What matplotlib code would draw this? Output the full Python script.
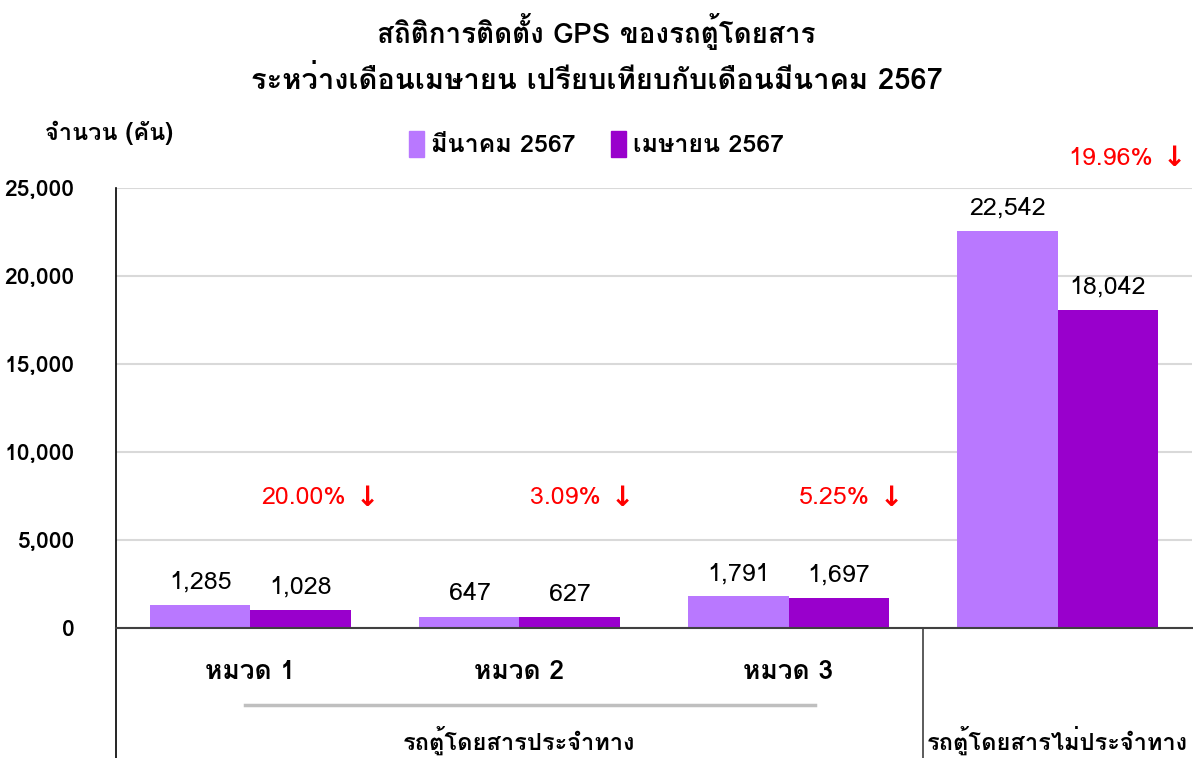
import matplotlib
matplotlib.use("Agg")
import matplotlib.pyplot as plt
from matplotlib import font_manager
from matplotlib.ft2font import FT2Font
from matplotlib.patches import Patch

# data
groups = ["หมวด 1", "หมวด 2", "หมวด 3", ""]
mar = [1285, 647, 1791, 22542]
apr = [1028, 627, 1697, 18042]
pct = ["20.00%", "3.09%", "5.25%", "19.96%"]
yticks = [0, 5000, 10000, 15000, 20000, 25000]

# find a font that has thai glyphs
thai = None
for f in font_manager.fontManager.ttflist:
    try:
        if 0x0E01 in FT2Font(f.fname).get_charmap():
            thai = f.name
            break
    except Exception:
        pass
fam = [thai, "DejaVu Sans"] if thai else ["DejaVu Sans"]
plt.rcParams["font.family"] = fam

c1 = "#B978FF"
c2 = "#9900CC"

fig = plt.figure(figsize=(11.93, 7.58), dpi=100)
ax = fig.add_axes([0.0972, 0.1715, 0.902, 0.5805])

x = list(range(len(mar)))
w = 0.372
ax.bar([i - w / 2 for i in x], mar, w, color=c1, zorder=3)
ax.bar([i + w / 2 for i in x], apr, w, color=c2, zorder=3)

for i in x:
    ax.text(i - w / 2, mar[i] + 650, f"{mar[i]:,}", ha="center", va="bottom", fontsize=18)
    ax.text(i + w / 2, apr[i] + 650, f"{apr[i]:,}", ha="center", va="bottom", fontsize=18)

# percent change labels
for i, p in enumerate(pct):
    yy = 7400 if i < 3 else 26700
    t = ax.text(i + 0.04, yy, p, ha="left", va="center", color="red",
                fontsize=18, clip_on=False)
    ax.annotate("\u2193", xy=(1, 0.5), xycoords=t, xytext=(7, 0),
                textcoords="offset points", ha="left", va="center", color="red",
                fontsize=20, fontweight="bold", family="DejaVu Sans")

ax.set_xlim(-0.5, 3.5)
ax.set_ylim(0, 25000)
ax.set_yticks(yticks)
ax.set_yticklabels([f"{v:,}" for v in yticks], fontsize=16.5, fontweight="bold")
ax.set_xticks([])
ax.grid(axis="y", color="#D9D9D9", linewidth=1.5, zorder=0)
for s in ["top", "right"]:
    ax.spines[s].set_visible(False)
ax.spines["bottom"].set_color("#404040")
ax.spines["bottom"].set_linewidth(1.5)
ax.spines["bottom"].set_zorder(4)
ax.spines["left"].set_linewidth(1.2)
ax.tick_params(axis="y", length=0, pad=30)

# multi level category axis
tr = ax.get_xaxis_transform()
for i, g in enumerate(groups):
    if g:
        ax.text(i, -0.1, g, transform=tr, ha="center", va="center",
                fontsize=19, fontweight="bold", clip_on=False)
ax.plot([-0.02, 2.1], [-0.175, -0.175], transform=tr, color="#BFBFBF",
        linewidth=2.5, clip_on=False)
ax.text(1, -0.255, "รถตู้โดยสารประจำทาง", transform=tr, ha="center", va="center",
        fontsize=17, fontweight="bold", clip_on=False)
ax.text(3, -0.255, "รถตู้โดยสารไม่ประจำทาง", transform=tr, ha="center", va="center",
        fontsize=17, fontweight="bold", clip_on=False)
ax.plot([-0.5, -0.5], [0, -0.3], transform=tr, color="black", linewidth=1.2, clip_on=False)
ax.plot([2.5, 2.5], [0, -0.3], transform=tr, color="#404040", linewidth=1.2, clip_on=False)

fig.text(0.5, 0.958, "สถิติการติดตั้ง GPS ของรถตู้โดยสาร", ha="center", va="center",
         fontsize=20, fontweight="bold")
fig.text(0.5, 0.894, "ระหว่างเดือนเมษายน เปรียบเทียบกับเดือนมีนาคม 2567", ha="center",
         va="center", fontsize=21, fontweight="bold")
fig.text(0.038, 0.825, "จำนวน (คัน)", ha="left", va="center", fontsize=17, fontweight="bold")

handles = [Patch(color=c1, label="มีนาคม 2567"), Patch(color=c2, label="เมษายน 2567")]
fig.legend(handles=handles, loc="center", bbox_to_anchor=(0.5, 0.81), ncol=2,
           frameon=False, prop={"size": 18, "weight": "bold"},
           handlelength=0.6, handleheight=1.2, handletextpad=0.3, columnspacing=1.4)

plt.savefig("out.png", dpi=100)
